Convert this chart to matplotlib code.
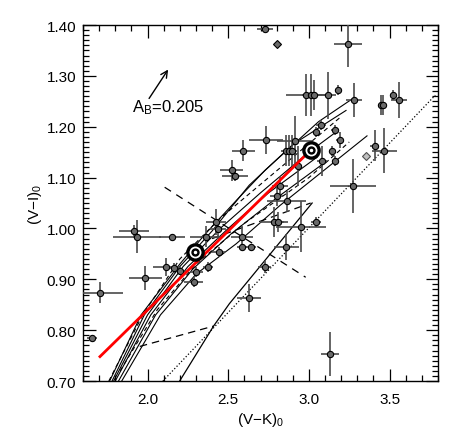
import numpy as np
import matplotlib
matplotlib.use('Agg')
import matplotlib.pyplot as plt
from matplotlib.ticker import MultipleLocator

plt.rcParams['font.family'] = ['Liberation Sans', 'DejaVu Sans']
plt.rcParams['mathtext.fontset'] = 'custom'
plt.rcParams['mathtext.rm'] = 'Liberation Sans'
plt.rcParams['mathtext.it'] = 'Liberation Sans'

# observed clusters: (V-K)0, (V-I)0 and errors
vk = [1.655, 1.707, 1.915, 1.935, 2.153, 1.987, 2.112, 2.164, 2.199, 2.285,
      2.302, 2.374, 2.442, 2.425, 2.363, 2.435, 2.586, 2.586, 2.641, 2.725,
      2.861, 2.950, 3.042, 2.785, 2.806, 2.631, 3.131, 2.730, 3.242, 2.980,
      3.015, 3.030, 3.120, 3.180, 3.279, 3.447, 3.460, 3.520, 3.557, 3.077,
      3.159, 2.734, 2.594, 2.522, 2.542, 2.915, 2.857, 2.877, 2.898, 3.042,
      3.190, 3.145, 3.083, 3.162, 3.407, 3.468, 3.273, 2.935, 2.800, 2.862,
      2.820]
vi = [0.784, 0.874, 0.994, 0.984, 0.984, 0.903, 0.924, 0.922, 0.917, 0.894,
      0.914, 0.924, 0.954, 1.013, 0.984, 0.999, 0.984, 0.964, 0.964, 0.924,
      0.964, 1.003, 1.013, 1.013, 1.013, 0.863, 0.753, 1.393, 1.363, 1.262,
      1.262, 1.262, 1.262, 1.273, 1.253, 1.243, 1.243, 1.262, 1.253, 1.204,
      1.194, 1.174, 1.153, 1.114, 1.104, 1.171, 1.153, 1.153, 1.153, 1.189,
      1.174, 1.153, 1.133, 1.133, 1.163, 1.153, 1.083, 1.123, 1.064, 1.053,
      1.084]
vk_err = [0.030, 0.140, 0.095, 0.150, 0.080, 0.100, 0.080, 0.040, 0.040, 0.060,
          0.040, 0.030, 0.040, 0.060, 0.100, 0.050, 0.070, 0.030, 0.030, 0.040,
          0.080, 0.155, 0.030, 0.087, 0.040, 0.075, 0.057, 0.050, 0.085, 0.125,
          0.060, 0.050, 0.050, 0.020, 0.050, 0.020, 0.020, 0.020, 0.050, 0.030,
          0.020, 0.105, 0.070, 0.070, 0.080, 0.110, 0.030, 0.030, 0.030, 0.020,
          0.020, 0.020, 0.030, 0.020, 0.030, 0.080, 0.145, 0.020, 0.040, 0.123,
          0.050]
vi_err = [0.000, 0.020, 0.012, 0.033, 0.005, 0.024, 0.018, 0.010, 0.008, 0.010,
          0.010, 0.010, 0.010, 0.025, 0.020, 0.020, 0.020, 0.000, 0.000, 0.012,
          0.026, 0.050, 0.010, 0.030, 0.020, 0.027, 0.044, 0.005, 0.046, 0.041,
          0.041, 0.030, 0.046, 0.010, 0.033, 0.020, 0.020, 0.010, 0.035, 0.010,
          0.010, 0.027, 0.020, 0.020, 0.010, 0.050, 0.030, 0.030, 0.030, 0.010,
          0.015, 0.010, 0.030, 0.010, 0.030, 0.044, 0.053, 0.040, 0.020, 0.020,
          0.020]

# points without error bars
diam_vk = [2.800]
diam_vi = [1.363]
open_vk = [3.351]
open_vi = [1.143]

# model tracks (bundle)
tracks = [
    ([1.765, 1.96, 2.20, 2.36, 2.55, 2.73, 3.06, 3.27],
     [0.700, 0.830, 0.930, 0.990, 1.055, 1.115, 1.210, 1.255]),
    ([1.78, 1.98, 2.20, 2.40, 2.63, 2.90, 3.23],
     [0.700, 0.830, 0.925, 0.995, 1.085, 1.165, 1.232]),
    ([1.79, 2.00, 2.22, 2.45, 2.70, 3.00, 3.17],
     [0.700, 0.830, 0.925, 1.000, 1.070, 1.150, 1.190]),
    ([1.80, 2.02, 2.25, 2.50, 2.75, 3.05],
     [0.700, 0.830, 0.925, 1.000, 1.070, 1.140]),
    ([1.82, 2.05, 2.28, 2.52, 2.80, 3.10],
     [0.700, 0.830, 0.920, 0.990, 1.060, 1.130]),
    ([1.84, 2.08, 2.30, 2.55, 2.82, 3.36],
     [0.700, 0.830, 0.910, 0.970, 1.045, 1.182]),
]
dashed_tracks = [
    ([1.76, 1.97, 2.20, 2.45, 2.75, 3.20],
     [0.700, 0.830, 0.940, 1.020, 1.100, 1.220]),
    ([1.83, 2.06, 2.30, 2.60, 3.00, 3.25],
     [0.720, 0.840, 0.930, 1.010, 1.100, 1.170]),
]

# other reference lines
solid_vk = [2.199, 2.409, 2.507, 3.020]
solid_vi = [0.700, 0.808, 0.852, 1.050]
dash1_vk = [1.952, 2.409]
dash1_vi = [0.768, 0.808]
dash2_vk = [2.400, 3.011]
dash2_vi = [0.980, 1.050]
cross_vk = [2.106, 2.980]
cross_vi = [1.081, 0.904]
dot_vk = [2.095, 3.783]
dot_vi = [0.700, 1.262]

# red fit and highlighted points
red_vk = [1.705, 2.291, 3.011]
red_vi = [0.748, 0.930, 1.154]
big_vk = [2.291, 3.011]
big_vi = [0.953, 1.155]

fig = plt.figure(figsize=(4.63, 4.35), dpi=100)
ax = fig.add_axes([0.1793, 0.1218, 0.7667, 0.8184])

for tx, ty in tracks:
    ax.plot(tx, ty, '-', color='k', lw=0.8)
for tx, ty in dashed_tracks:
    ax.plot(tx, ty, '--', color='k', lw=0.8, dashes=(4, 3))
ax.plot(solid_vk, solid_vi, '-', color='k', lw=0.9)
ax.plot(dash1_vk, dash1_vi, '--', color='k', lw=0.9, dashes=(6, 4))
ax.plot(dash2_vk, dash2_vi, '--', color='k', lw=0.9, dashes=(6, 4))
ax.plot(cross_vk, cross_vi, '--', color='k', lw=0.9, dashes=(6, 5))
ax.plot(dot_vk, dot_vi, ':', color='k', lw=0.9)

ax.errorbar(vk, vi, xerr=vk_err, yerr=vi_err, fmt='o', ms=4.5,
            mfc='#6a6a6a', mec='k', mew=0.8, ecolor='#4a4a4a',
            elinewidth=1.2, capsize=0, zorder=3)
ax.plot(diam_vk, diam_vi, 'D', ms=4, mfc='#6a6a6a', mec='k', mew=0.8, zorder=3)
ax.plot(open_vk, open_vi, 'D', ms=4, mfc='#c0c0c0', mec='#505050', mew=0.8, zorder=3)

ax.plot(red_vk, red_vi, '-', color='red', lw=2, zorder=4)
ax.plot(big_vk, big_vi, 'o', ms=11, mfc='white', mec='k', mew=2.4, zorder=5)
ax.plot(big_vk, big_vi, 'o', ms=5, mfc='k', mec='k', zorder=6)
ax.plot(big_vk, big_vi, 'o', ms=1.5, mfc='white', mec='white', zorder=7)

ax.annotate('', xy=(2.137, 1.317), xytext=(2.0, 1.251),
            arrowprops=dict(arrowstyle='->', lw=1, color='k', mutation_scale=12))
ax.text(1.902, 1.239, r'A$_\mathrm{B}$=0.205', fontsize=12, ha='left', va='center')

ax.set_xlim(1.6, 3.8)
ax.set_ylim(0.7, 1.4)
ax.xaxis.set_major_locator(MultipleLocator(0.5))
ax.xaxis.set_minor_locator(MultipleLocator(0.1))
ax.yaxis.set_major_locator(MultipleLocator(0.1))
ax.yaxis.set_minor_locator(MultipleLocator(0.01))
ax.xaxis.set_major_formatter(plt.FormatStrFormatter('%.1f'))
ax.yaxis.set_major_formatter(plt.FormatStrFormatter('%.2f'))
ax.tick_params(which='both', direction='in', top=True, right=True, labelsize=11, width=0.9)
ax.tick_params(which='major', length=9)
ax.tick_params(which='minor', length=4)
ax.tick_params(axis='x', pad=8)
ax.tick_params(axis='y', pad=5)
for s in ax.spines.values():
    s.set_linewidth(1)

ax.set_xlabel('(V\u2212K)$_0$', fontsize=11, labelpad=3)
ax.set_ylabel('(V\u2212I)$_0$', fontsize=11, labelpad=2)

plt.savefig('out.png', dpi=100)
